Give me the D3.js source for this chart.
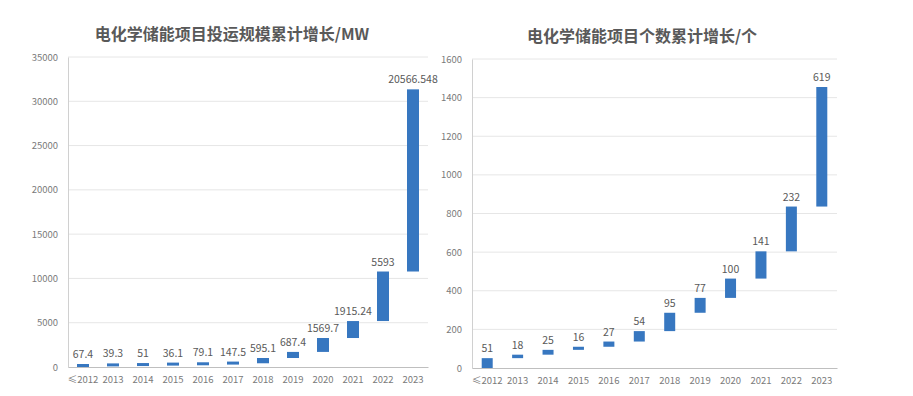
<!DOCTYPE html>
<html>
<head>
<meta charset="utf-8">
<script src="https://cdn.jsdelivr.net/npm/d3@7"></script>
<style>
  body { margin: 0; background: #fff; }
  text { font-family: "Noto Sans CJK SC", "Open Sans", sans-serif; }
</style>
</head>
<body>
<div id="chart"></div>
<script>
// categories shared by both charts
const years = ["≤2012", "2013", "2014", "2015", "2016", "2017", "2018", "2019", "2020", "2021", "2022", "2023"];

// yearly increments (MW)
const capacityAdded = [67.4, 39.3, 51, 36.1, 79.1, 147.5, 595.1, 687.4, 1569.7, 1915.24, 5593, 20566.548];
const capacityLabels = ["67.4", "39.3", "51", "36.1", "79.1", "147.5", "595.1", "687.4", "1569.7", "1915.24", "5593", "20566.548"];
const capacityTicks = [0, 5000, 10000, 15000, 20000, 25000, 30000, 35000];

// yearly increments (project count)
const countAdded = [51, 18, 25, 16, 27, 54, 95, 77, 100, 141, 232, 619];
const countTicks = [0, 200, 400, 600, 800, 1000, 1200, 1400, 1600];

const W = 913, H = 396;
const barColor = "#3777c0";
const textGray = "#595959";

const svg = d3.select("#chart").append("svg")
    .attr("width", W)
    .attr("height", H);

function drawWaterfall(opts) {
    const { values, labels, ticks, title, left, right, top, bottom, titleX, titleY, barW, minH } = opts;

    // cumulative start/end for each step
    let run = 0;
    const steps = values.map((v, i) => {
        const s = run;
        run += v;
        return { year: years[i], start: s, end: run, label: labels[i] };
    });

    const x = d3.scaleBand().domain(years).range([left, right]);
    const y = d3.scaleLinear().domain([0, d3.max(ticks)]).range([bottom, top]);

    const g = svg.append("g");

    // gridlines
    g.selectAll("line.grid")
        .data(ticks.filter(t => t > 0))
        .enter()
        .append("line")
        .attr("class", "grid")
        .attr("x1", left)
        .attr("x2", right)
        .attr("y1", d => y(d))
        .attr("y2", d => y(d))
        .attr("stroke", "#e6e6e6")
        .attr("stroke-width", 1);

    // y axis
    const yAxis = g.append("g")
        .attr("transform", `translate(${left},0)`)
        .call(d3.axisLeft(y).tickValues(ticks).tickSize(0).tickPadding(10).tickFormat(d3.format("d")));
    yAxis.select(".domain").attr("stroke", "#d0d0d0");
    yAxis.selectAll("text").attr("fill", "#7a7a7a").style("font-size", "9.5px");

    // x axis
    const xAxis = g.append("g")
        .attr("transform", `translate(0,${bottom})`)
        .call(d3.axisBottom(x).tickSize(0).tickPadding(9));
    xAxis.select(".domain").attr("stroke", "#bfbfbf");
    xAxis.selectAll("text").attr("fill", "#7a7a7a").style("font-size", "9.5px");

    // bars
    g.selectAll("rect.bar")
        .data(steps)
        .enter()
        .append("rect")
        .attr("class", "bar")
        .attr("x", d => x(d.year) + (x.bandwidth() - barW) / 2)
        .attr("width", barW)
        .attr("y", d => Math.min(y(d.end), y(d.start) - minH))
        .attr("height", d => Math.max(y(d.start) - y(d.end), minH))
        .attr("fill", barColor);

    // data labels
    g.selectAll("text.lbl")
        .data(steps)
        .enter()
        .append("text")
        .attr("class", "lbl")
        .attr("x", d => x(d.year) + x.bandwidth() / 2)
        .attr("y", d => Math.min(y(d.end), y(d.start) - minH) - 6)
        .attr("text-anchor", "middle")
        .attr("fill", textGray)
        .style("font-size", "10.5px")
        .text(d => d.label);

    // title
    svg.append("text")
        .attr("x", titleX)
        .attr("y", titleY)
        .attr("text-anchor", "middle")
        .attr("fill", textGray)
        .style("font-size", "16px")
        .style("font-weight", "bold")
        .text(title);
}

drawWaterfall({
    values: capacityAdded,
    labels: capacityLabels,
    ticks: capacityTicks,
    title: "电化学储能项目投运规模累计增长/MW",
    left: 68, right: 428, top: 57, bottom: 367,
    titleX: 232, titleY: 40,
    barW: 12, minH: 3
});

drawWaterfall({
    values: countAdded,
    labels: countAdded.map(String),
    ticks: countTicks,
    title: "电化学储能项目个数累计增长/个",
    left: 472, right: 837, top: 59, bottom: 368,
    titleX: 642, titleY: 42,
    barW: 11, minH: 3
});
</script>
</body>
</html>
